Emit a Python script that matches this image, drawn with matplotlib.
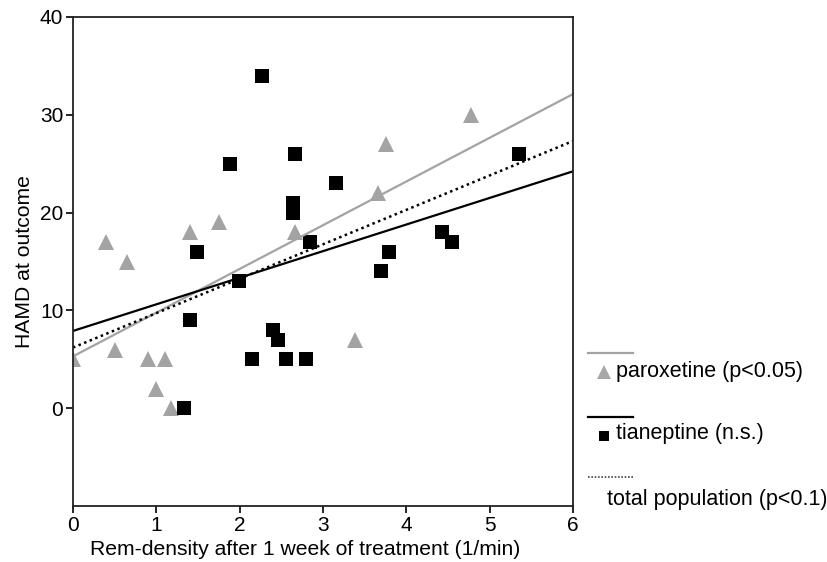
import numpy as np
import matplotlib
matplotlib.use("Agg")
import matplotlib.pyplot as plt

plt.rcParams['font.family'] = ['Liberation Sans', 'DejaVu Sans']

# Paroxetine (graue Dreiecke)
par_x = [0.0, 0.40, 0.50, 0.65, 0.90, 1.00, 1.10, 1.18, 1.40, 1.75, 2.66, 3.38, 3.66, 3.75, 4.78]
par_y = [5, 17, 6, 15, 5, 2, 5, 0, 18, 19, 18, 7, 22, 27, 30]

# Tianeptine (schwarze Quadrate)
tia_x = [2.27, 1.88, 2.66, 3.15, 2.64, 2.64, 1.49, 2.84, 1.99, 1.40, 1.33,
         2.40, 2.46, 2.15, 2.56, 2.79, 5.35, 4.43, 4.55, 3.79, 3.69]
tia_y = [34, 25, 26, 23, 21, 20, 16, 17, 13, 9, 0,
         8, 7, 5, 5, 5, 26, 18, 17, 16, 14]

# Regressionsgeraden: (Achsenabschnitt, Steigung)
par_fit = (5.3, 4.47)
tia_fit = (7.9, 2.72)
tot_fit = (6.2, 3.52)

x_ticks = [0, 1, 2, 3, 4, 5, 6]
y_ticks = [0, 10, 20, 30, 40]

gray = "#a3a3a3"

fig = plt.figure(figsize=(8.27, 5.62), dpi=100)
ax = fig.add_axes([73/827, 1 - 506/562, 500/827, 489/562])

# Punkte
ax.plot(par_x, par_y, linestyle="none", marker="^", markersize=12,
        color=gray, markeredgewidth=0)
ax.plot(tia_x, tia_y, linestyle="none", marker="s", markersize=10,
        color="black", markeredgewidth=0)

# Geraden
xl = np.array([0, 6])
ax.plot(xl, par_fit[0] + par_fit[1]*xl, color=gray, lw=1.6)
ax.plot(xl, tia_fit[0] + tia_fit[1]*xl, color="black", lw=1.6)
ax.plot(xl, tot_fit[0] + tot_fit[1]*xl, color="black", lw=1.8,
        linestyle=(0, (1, 1.4)))

ax.set_xlim(0, 6)
ax.set_ylim(-10, 40)
ax.set_xticks(x_ticks)
ax.set_yticks(y_ticks)
ax.tick_params(labelsize=15, length=5, width=1.2, direction="out", pad=2)
ax.set_xlabel("Rem-density after 1 week of treatment (1/min)", fontsize=15.2)
ax.xaxis.set_label_coords(0.464, -0.07)
ax.set_ylabel("HAMD at outcome", fontsize=15.2)
ax.yaxis.set_label_coords(-0.078, 0.5)
for s in ax.spines.values():
    s.set_linewidth(1.3)
    s.set_color("#222222")

# Legende (rechts neben dem Diagramm, in Pixelkoordinaten)
lax = fig.add_axes([0, 0, 1, 1])
lax.set_xlim(0, 827)
lax.set_ylim(562, 0)
lax.set_axis_off()

lax.plot([588, 633], [353, 353], color=gray, lw=1.6)
lax.plot([604], [372], marker="^", markersize=10, color="#a8a8a8", markeredgewidth=0)
lax.text(616, 371, "paroxetine (p<0.05)", fontsize=15.5, va="center")

lax.plot([588, 633], [417, 417], color="black", lw=1.6)
lax.plot([604], [436], marker="s", markersize=7, color="black", markeredgewidth=0)
lax.text(616, 433, "tianeptine (n.s.)", fontsize=15.5, va="center")

lax.plot([588, 633], [477, 477], color="#444444", lw=1.2, linestyle=(0, (1, 1)))
lax.text(607, 500, "total population (p<0.1)", fontsize=15.5, va="center")

fig.savefig("out.png", dpi=100)
